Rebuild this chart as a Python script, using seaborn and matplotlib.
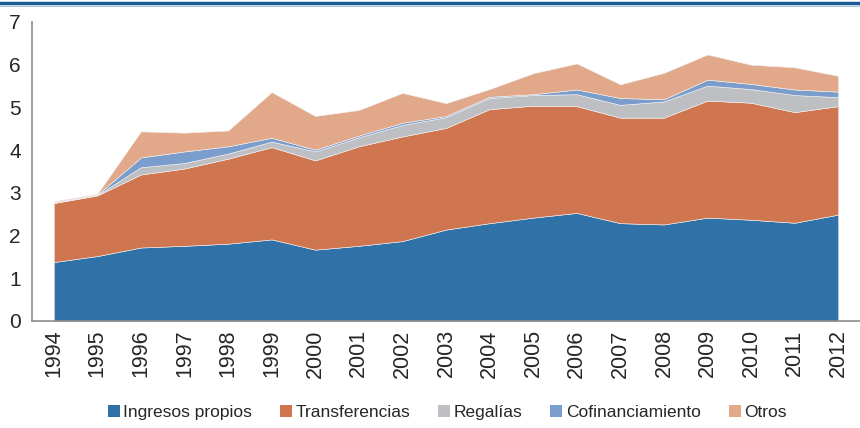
import numpy as np
import matplotlib
matplotlib.use("Agg")
import matplotlib.pyplot as plt
from matplotlib.lines import Line2D
from matplotlib.patches import Patch
import seaborn as sns

years = ["1994", "1995", "1996", "1997", "1998", "1999", "2000", "2001", "2002", "2003",
         "2004", "2005", "2006", "2007", "2008", "2009", "2010", "2011", "2012"]

ingresos_propios = [1.38, 1.52, 1.72, 1.76, 1.81, 1.91, 1.67, 1.76, 1.87, 2.14,
                    2.29, 2.42, 2.53, 2.29, 2.26, 2.42, 2.37, 2.30, 2.49]
transferencias = [1.38, 1.42, 1.71, 1.81, 1.99, 2.16, 2.09, 2.33, 2.45, 2.38,
                  2.67, 2.62, 2.50, 2.47, 2.50, 2.74, 2.74, 2.59, 2.54]
regalias = [0.01, 0.01, 0.17, 0.13, 0.12, 0.13, 0.21, 0.21, 0.27, 0.25,
            0.26, 0.25, 0.28, 0.30, 0.38, 0.35, 0.32, 0.40, 0.21]
cofinanciamiento = [0.01, 0.01, 0.23, 0.27, 0.17, 0.09, 0.04, 0.04, 0.05, 0.03,
                    0.03, 0.02, 0.11, 0.16, 0.05, 0.14, 0.12, 0.13, 0.13]
otros = [0.02, 0.02, 0.61, 0.44, 0.37, 1.07, 0.79, 0.60, 0.70, 0.30,
         0.18, 0.49, 0.61, 0.32, 0.62, 0.59, 0.45, 0.52, 0.37]

series_names = ["Ingresos propios", "Transferencias", "Regalías", "Cofinanciamiento", "Otros"]
colors = ["#3071A7", "#CF7550", "#BEBFC3", "#7B9DCB", "#E2A88A"]

sns.set_style("white")
plt.rcParams['font.family'] = ['Liberation Sans', 'DejaVu Sans']

fig = plt.figure(figsize=(8.6, 4.28), dpi=100)
ax = fig.add_axes([0.0372, 0.25, 0.9628, 0.6986])

x = np.arange(len(years))
ax.stackplot(x, ingresos_propios, transferencias, regalias, cofinanciamiento, otros,
             colors=colors, edgecolor="#f3f3f3", linewidth=0.4)

ax.set_xlim(-0.5, len(years) - 0.5)
ax.set_ylim(0, 7)
ax.set_yticks(range(0, 8))

# ticks between categories, labels centred on them
ax.set_xticks(np.arange(-0.5, len(years)), labels=[""] * (len(years) + 1))
ax.set_xticks(x, labels=years, minor=True)
ax.tick_params(axis="x", which="major", length=8, width=1, color="#8c8c8c", direction="out")
ax.tick_params(axis="x", which="minor", length=0, pad=6, labelsize=15.5, labelrotation=90)
ax.tick_params(axis="y", length=5, width=1, color="#8c8c8c", direction="out", pad=3, labelsize=15)

sns.despine(ax=ax)
for side in ["left", "bottom"]:
    ax.spines[side].set_color("#8c8c8c")
    ax.spines[side].set_linewidth(1.2)

# top rule
fig.add_artist(Line2D([0, 1], [0.993, 0.993], color="#1B5B91", linewidth=2.5, transform=fig.transFigure))
fig.add_artist(Line2D([0, 1], [0.986, 0.986], color="#A9C7DD", linewidth=0.8, transform=fig.transFigure))

handles = [Patch(facecolor=c, edgecolor="none") for c in colors]
fig.legend(handles, series_names, loc="center", bbox_to_anchor=(0.52, 0.037), ncol=5,
           frameon=False, fontsize=12.5, handlelength=0.7, handleheight=0.7,
           handletextpad=0.2, columnspacing=1.6)

fig.savefig("out.png", dpi=100)
